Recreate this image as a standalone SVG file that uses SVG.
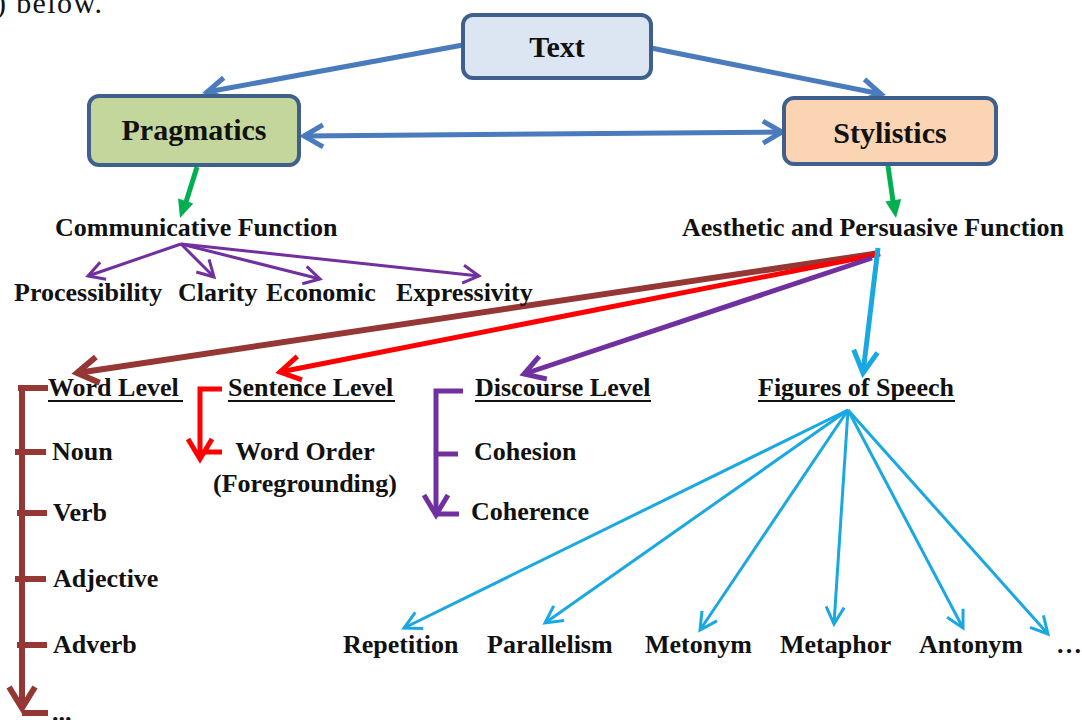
<svg xmlns="http://www.w3.org/2000/svg" width="1082" height="720" viewBox="0 0 1082 720">
<style>
.t{font-family:"Liberation Serif","Times New Roman",serif;font-weight:bold;font-size:26px;fill:#111}
.big{font-size:30px}
.box{stroke:#3f5f8c;stroke-width:4}
.ul{stroke:#111;stroke-width:2}
.blue{stroke:#4a7bbd;stroke-width:5;fill:none}
.green{stroke:#00b050;stroke-width:5;fill:none}
.purS{stroke:#7030a0;stroke-width:3;fill:none}
.pur{stroke:#7030a0;stroke-width:5;fill:none}
.brown{stroke:#953735;stroke-width:6;fill:none}
.red{stroke:#ff0000;stroke-width:5;fill:none}
.cyan{stroke:#1aa8e2;stroke-width:5;fill:none}
.cyanS{stroke:#1aa8e2;stroke-width:3;fill:none}
</style>
<defs>
<marker id="aBlue" markerUnits="userSpaceOnUse" viewBox="-30 -17 40 34" markerWidth="40" markerHeight="34" refX="0" refY="0" orient="auto-start-reverse" overflow="visible"><path d="M-19,-11 L0,0 L-19,11" stroke="#4a7bbd" stroke-width="5" fill="none"/></marker>
<marker id="aPurS" markerUnits="userSpaceOnUse" viewBox="-22 -13 30 26" markerWidth="30" markerHeight="26" refX="0" refY="0" orient="auto" overflow="visible"><path d="M-16,-9 L0,0 L-16,9" stroke="#7030a0" stroke-width="3" fill="none"/></marker>
<marker id="aPur" markerUnits="userSpaceOnUse" viewBox="-30 -17 40 34" markerWidth="40" markerHeight="34" refX="0" refY="0" orient="auto" overflow="visible"><path d="M-20,-12 L0,0 L-20,12" stroke="#7030a0" stroke-width="5" fill="none"/></marker>
<marker id="aBrown" markerUnits="userSpaceOnUse" viewBox="-32 -18 42 36" markerWidth="42" markerHeight="36" refX="0" refY="0" orient="auto" overflow="visible"><path d="M-21,-13 L0,0 L-21,13" stroke="#953735" stroke-width="6" fill="none"/></marker>
<marker id="aRed" markerUnits="userSpaceOnUse" viewBox="-30 -17 40 34" markerWidth="40" markerHeight="34" refX="0" refY="0" orient="auto" overflow="visible"><path d="M-20,-12 L0,0 L-20,12" stroke="#ff0000" stroke-width="5" fill="none"/></marker>
<marker id="aCyan" markerUnits="userSpaceOnUse" viewBox="-32 -18 42 36" markerWidth="42" markerHeight="36" refX="0" refY="0" orient="auto" overflow="visible"><path d="M-22,-12 L0,0 L-22,12" stroke="#1aa8e2" stroke-width="5" fill="none"/></marker>
<marker id="aCyanS" markerUnits="userSpaceOnUse" viewBox="-24 -14 32 28" markerWidth="32" markerHeight="28" refX="0" refY="0" orient="auto" overflow="visible"><path d="M-17,-9 L0,0 L-17,9" stroke="#1aa8e2" stroke-width="3" fill="none"/></marker>
</defs>
<rect width="1082" height="720" fill="#fff"/>
<text x="-4" y="13" style="font-family:'Liberation Serif','Times New Roman',serif;font-size:30px;fill:#111" textLength="106">) below.</text>

<g id="connectors">
<path class="blue" d="M463,45 L207,92" marker-end="url(#aBlue)"/>
<path class="blue" d="M651,48 L881,94" marker-end="url(#aBlue)"/>
<path class="blue" d="M304,136 L782,132" marker-start="url(#aBlue)" marker-end="url(#aBlue)"/>
<path class="green" d="M197,167 L186,202"/>
<polygon fill="#00b050" points="180,218 193.3,203.4 178.1,198.4"/>
<path class="green" d="M888,166 L893,201"/>
<polygon fill="#00b050" points="896,218 901.2,199 885.4,201.4"/>
<path class="purS" d="M181,244 L88,276" marker-end="url(#aPurS)"/>
<path class="purS" d="M181,244 L214,277" marker-end="url(#aPurS)"/>
<path class="purS" d="M181,244 L320,279" marker-end="url(#aPurS)"/>
<path class="purS" d="M181,244 L479,276" marker-end="url(#aPurS)"/>
<path class="brown" d="M880,253 L77,373" marker-end="url(#aBrown)"/>
<path class="red" d="M880,254 L280,372" marker-end="url(#aRed)"/>
<path class="pur" d="M872,258 L524,374" marker-end="url(#aPur)"/>
<path class="cyan" d="M878,248 L863,373" marker-end="url(#aCyan)"/>
<path class="brown" d="M18,388 L48,388 M15,452 L46,452 M17,513 L47,513 M15,579 L46,579 M17,645 L47,645 M22,713 L48,713"/>
<path class="brown" d="M22,385 L22,708" marker-end="url(#aBrown)"/>
<path class="red" d="M222,389 L200,389 L200,459" marker-end="url(#aRed)"/>
<path class="red" d="M200,452 L222,452"/>
<path class="pur" d="M463,391 L436,391 L436,515" marker-end="url(#aPur)"/>
<path class="pur" d="M436,454 L458,454 M436,514 L459,514"/>
<path class="cyanS" d="M848,410 L404,628" marker-end="url(#aCyanS)"/>
<path class="cyanS" d="M848,410 L545,623" marker-end="url(#aCyanS)"/>
<path class="cyanS" d="M848,410 L700,630" marker-end="url(#aCyanS)"/>
<path class="cyanS" d="M848,410 L834,624" marker-end="url(#aCyanS)"/>
<path class="cyanS" d="M848,410 L963,628" marker-end="url(#aCyanS)"/>
<path class="cyanS" d="M848,410 L1048,634" marker-end="url(#aCyanS)"/>
</g>

<g id="text-node"><rect class="box" x="463" y="15" width="188" height="63" rx="10" fill="#dce6f2"/><text class="t big" x="557" y="57" text-anchor="middle">Text</text></g>
<g id="pragmatics"><rect class="box" x="89" y="96" width="210" height="69" rx="10" fill="#c3d69b"/><text class="t big" x="194" y="140" text-anchor="middle">Pragmatics</text></g>
<g id="stylistics"><rect class="box" x="784" y="98" width="212" height="66" rx="10" fill="#fbd4b4"/><text class="t big" x="890" y="143" text-anchor="middle">Stylistics</text></g>

<g id="communicative"><text class="t" x="55" y="236">Communicative Function</text></g>
<g id="aesthetic"><text class="t" x="682" y="236">Aesthetic and Persuasive Function</text></g>
<g id="processibility"><text class="t" x="14" y="301">Processibility</text></g>
<g id="clarity"><text class="t" x="178" y="301">Clarity</text></g>
<g id="economic"><text class="t" x="266" y="301">Economic</text></g>
<g id="expressivity"><text class="t" x="396" y="301">Expressivity</text></g>

<g id="word-level"><text class="t" x="48" y="396">Word Level</text><line class="ul" x1="48" y1="401" x2="183" y2="401"/></g>
<g id="sentence-level"><text class="t" x="228" y="396">Sentence Level</text><line class="ul" x1="228" y1="401" x2="395" y2="401"/></g>
<g id="discourse-level"><text class="t" x="475" y="396">Discourse Level</text><line class="ul" x1="475" y1="401" x2="651" y2="401"/></g>
<g id="figures"><text class="t" x="758" y="396">Figures of Speech</text><line class="ul" x1="758" y1="401" x2="955" y2="401"/></g>

<g id="noun"><text class="t" x="52" y="460">Noun</text></g>
<g id="verb"><text class="t" x="53" y="521">Verb</text></g>
<g id="adjective"><text class="t" x="53" y="587">Adjective</text></g>
<g id="adverb"><text class="t" x="53" y="653">Adverb</text></g>
<g id="etc-word"><text class="t" x="52" y="721">...</text></g>

<g id="word-order"><text class="t" x="305" y="460" text-anchor="middle">Word Order</text><text class="t" x="305" y="492" text-anchor="middle">(Foregrounding)</text></g>
<g id="cohesion"><text class="t" x="474" y="460">Cohesion</text></g>
<g id="coherence"><text class="t" x="471" y="520">Coherence</text></g>

<g id="repetition"><text class="t" x="343" y="653">Repetition</text></g>
<g id="parallelism"><text class="t" x="487" y="653">Parallelism</text></g>
<g id="metonym"><text class="t" x="645" y="653">Metonym</text></g>
<g id="metaphor"><text class="t" x="780" y="653">Metaphor</text></g>
<g id="antonym"><text class="t" x="919" y="653">Antonym</text></g>
<g id="etc-figures"><text class="t" x="1056" y="653">…</text></g>
</svg>
